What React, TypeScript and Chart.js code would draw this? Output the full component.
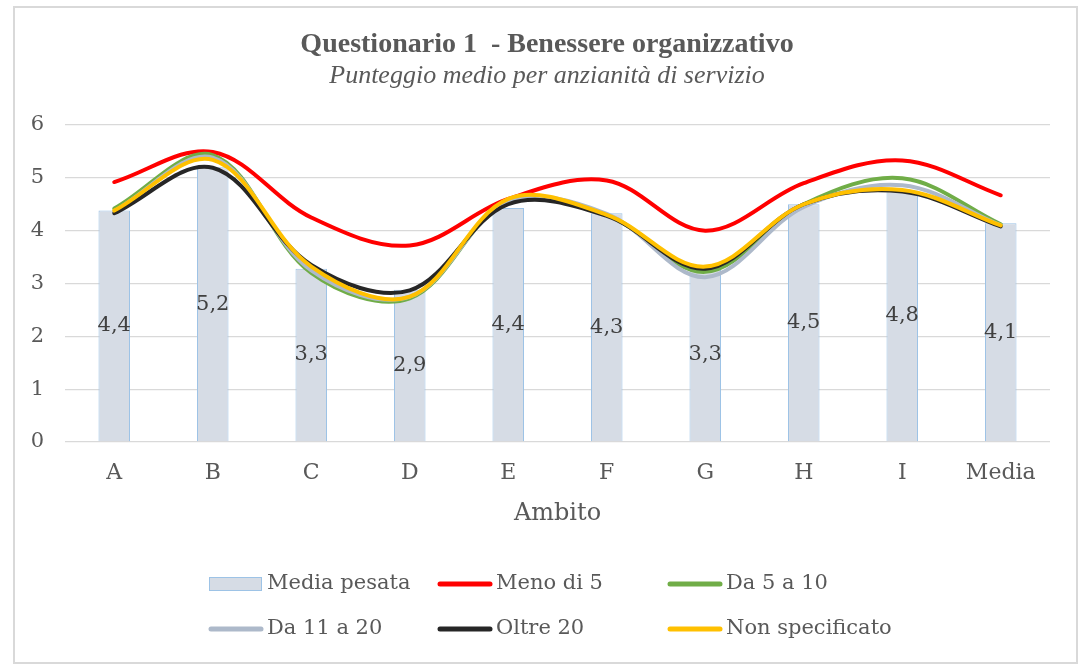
import React, { useEffect, useRef } from 'react';
import { Chart, registerables } from 'chart.js';

Chart.register(...registerables);

const categories = ['A', 'B', 'C', 'D', 'E', 'F', 'G', 'H', 'I', 'Media'];
const mediaPesata = [4.38, 5.2, 3.28, 2.88, 4.43, 4.33, 3.3, 4.5, 4.76, 4.14];
const menoDi5 = [4.92, 5.49, 4.25, 3.72, 4.6, 4.95, 4.0, 4.9, 5.33, 4.67];
const da5a10 = [4.42, 5.43, 3.2, 2.72, 4.55, 4.3, 3.22, 4.5, 4.99, 4.12];
const da11a20 = [4.37, 5.38, 3.25, 2.75, 4.55, 4.32, 3.12, 4.45, 4.86, 4.1];
const oltre20 = [4.33, 5.19, 3.35, 2.87, 4.5, 4.28, 3.28, 4.5, 4.74, 4.08];
const nonSpecificato = [4.38, 5.34, 3.32, 2.75, 4.6, 4.3, 3.32, 4.5, 4.77, 4.1];

const titleText = 'Questionario 1  - Benessere organizzativo';
const subtitleText = 'Punteggio medio per anzianità di servizio';
const xAxisTitle = 'Ambito';

const BODY_FONT = '"DejaVu Serif", serif';
const TITLE_FONT = '"Liberation Serif", serif';
const TEXT_COLOR = '#595959';
const BAR_FILL = '#d6dce5';
const BAR_BORDER = '#9dc3e6';

const lineSeries = [
  { label: 'Meno di 5', data: menoDi5, color: '#ff0000', order: 6 },
  { label: 'Da 5 a 10', data: da5a10, color: '#70ad47', order: 5 },
  { label: 'Da 11 a 20', data: da11a20, color: '#adb9ca', order: 4 },
  { label: 'Oltre 20', data: oltre20, color: '#262626', order: 3 },
  { label: 'Non specificato', data: nonSpecificato, color: '#ffc000', order: 2 },
];

const decorPlugin = {
  id: 'decor',
  beforeDraw(chart: any) {
    const ctx = chart.ctx;
    ctx.save();
    ctx.fillStyle = '#ffffff';
    ctx.fillRect(0, 0, chart.width, chart.height);
    ctx.strokeStyle = '#d9d9d9';
    ctx.lineWidth = 2;
    ctx.strokeRect(14, 7, 1063, 656);
    ctx.restore();
  },
  afterDraw(chart: any) {
    const ctx = chart.ctx;
    const area = chart.chartArea;
    ctx.save();
    // titles
    ctx.fillStyle = TEXT_COLOR;
    ctx.textAlign = 'center';
    ctx.textBaseline = 'middle';
    ctx.font = `bold 28px ${TITLE_FONT}`;
    ctx.fillText(titleText, 547, 45);
    ctx.font = `italic 26px ${TITLE_FONT}`;
    ctx.fillText(subtitleText, 547, 76);
    // axis title
    ctx.font = `24px ${BODY_FONT}`;
    ctx.fillText(xAxisTitle, (area.left + area.right) / 2, 514);

    // data labels in bars
    const meta = chart.getDatasetMeta(0);
    ctx.fillStyle = '#404040';
    ctx.font = `21px ${BODY_FONT}`;
    meta.data.forEach((el: any, i: number) => {
      const v = chart.data.datasets[0].data[i] as number;
      const cy = (el.y + el.base) / 2;
      ctx.fillText(v.toFixed(1).replace('.', ','), el.x, cy);
    });

    // legend
    const items = chart.data.datasets.map((d: any) => ({
      label: d.label,
      type: d.type,
      color: d.borderColor,
      fill: d.backgroundColor,
    }));
    const colX = [209, 438, 668];
    const rowY = [584, 629];
    const markerW = 54;
    ctx.font = `21px ${BODY_FONT}`;
    ctx.textAlign = 'left';
    ctx.textBaseline = 'middle';
    items.forEach((it: any, i: number) => {
      const x = colX[i % 3];
      const y = rowY[Math.floor(i / 3)];
      if (it.type === 'bar') {
        ctx.fillStyle = it.fill;
        ctx.fillRect(x, y - 7, markerW - 1, 14);
        ctx.strokeStyle = it.color;
        ctx.lineWidth = 1;
        ctx.strokeRect(x + 0.5, y - 6.5, markerW - 2, 13);
      } else {
        ctx.strokeStyle = it.color;
        ctx.lineWidth = 5;
        ctx.lineCap = 'round';
        ctx.beginPath();
        ctx.moveTo(x + 2, y);
        ctx.lineTo(x + markerW - 2, y);
        ctx.stroke();
      }
      ctx.fillStyle = TEXT_COLOR;
      ctx.fillText(it.label, x + markerW + 4, y);
    });
    ctx.restore();
  },
};

export default function App() {
  const canvasRef = useRef<HTMLCanvasElement | null>(null);

  useEffect(() => {
    if (!canvasRef.current) return;
    const datasets: any[] = [
      {
        type: 'bar',
        label: 'Media pesata',
        data: mediaPesata,
        backgroundColor: BAR_FILL,
        borderColor: BAR_BORDER,
        borderWidth: 1,
        barPercentage: 0.32,
        categoryPercentage: 1,
        order: 10,
      },
      ...lineSeries.map((s) => ({
        type: 'line',
        label: s.label,
        data: s.data,
        borderColor: s.color,
        backgroundColor: s.color,
        borderWidth: 4,
        pointRadius: 0,
        tension: 0.35,
        borderCapStyle: 'round',
        borderJoinStyle: 'round',
        fill: false,
        order: s.order,
      })),
    ];

    const chart = new Chart(canvasRef.current, {
      type: 'bar',
      data: { labels: categories, datasets },
      options: {
        animation: false,
        responsive: false,
        devicePixelRatio: 1,
        layout: { padding: { top: 125, right: 32, left: 0, bottom: 0 } },
        plugins: {
          legend: { display: false },
          title: { display: false },
          tooltip: { enabled: false },
        },
        scales: {
          x: {
            grid: { display: false, drawTicks: false },
            border: { display: false },
            ticks: {
              color: TEXT_COLOR,
              font: { family: BODY_FONT, size: 22 },
              padding: 18,
            },
            afterFit: (scale: any) => {
              scale.height = 223;
            },
          },
          y: {
            min: 0,
            max: 6,
            grid: { color: '#d9d9d9', lineWidth: 1.3, drawTicks: false },
            border: { display: false },
            ticks: {
              stepSize: 1,
              color: TEXT_COLOR,
              font: { family: BODY_FONT, size: 21 },
              padding: 21,
            },
            afterFit: (scale: any) => {
              scale.width = 65;
            },
          },
        },
      } as any,
      plugins: [decorPlugin],
    });
    return () => chart.destroy();
  }, []);

  return (
    <div style={{ position: 'fixed', left: 0, top: 0, width: 1082, height: 665, background: '#fff' }}>
      <canvas ref={canvasRef} width={1082} height={665} style={{ display: 'block' }} />
    </div>
  );
}
